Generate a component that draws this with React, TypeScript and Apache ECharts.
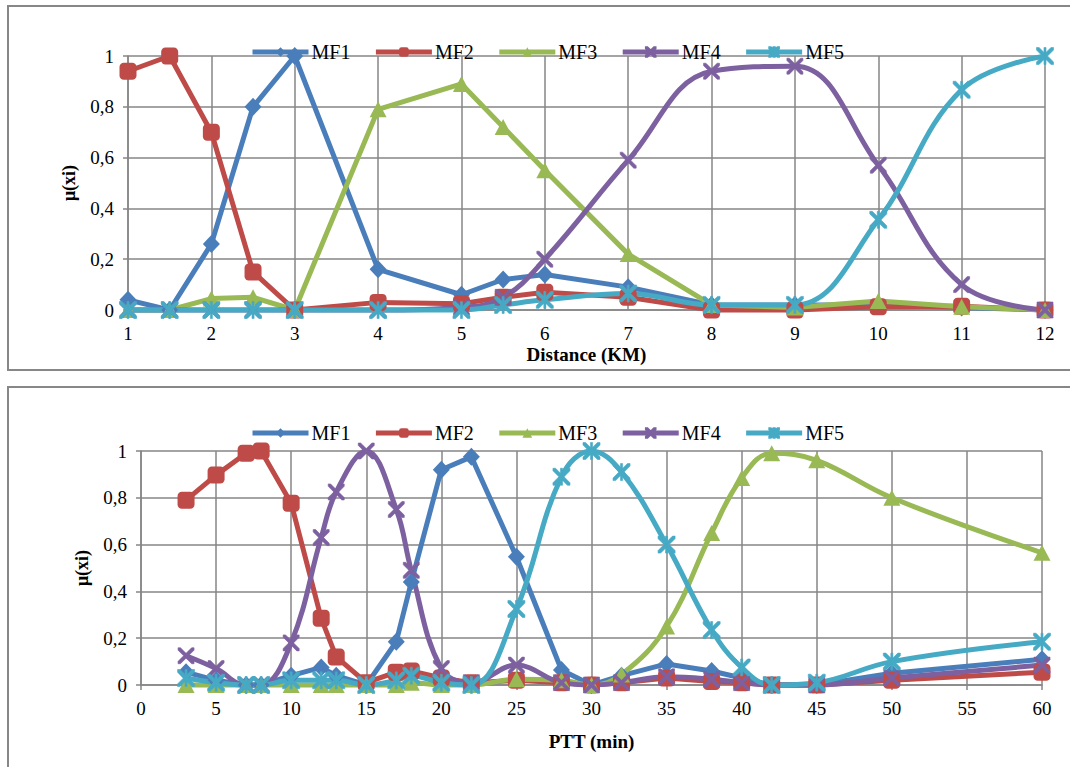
import React, { useEffect, useRef } from "react";
import * as echarts from "echarts";

const seriesNames = ["MF1", "MF2", "MF3", "MF4", "MF5"];
const colors = ["#4A7EBB", "#BE4B48", "#98B954", "#7D60A0", "#46AAC5"];

// Top chart: Distance (KM)
const distanceX = [1, 1.5, 2, 2.5, 3, 4, 5, 5.5, 6, 7, 8, 9, 10, 11, 12];
const distMF1 = [0.04, 0.0, 0.26, 0.8, 1.0, 0.16, 0.06, 0.12, 0.14, 0.09, 0.02, 0.02, 0.02, 0.01, 0.0];
const distMF2 = [0.94, 1.0, 0.7, 0.15, 0.0, 0.03, 0.025, 0.05, 0.07, 0.05, 0.0, 0.0, 0.013, 0.015, 0.0];
const distMF3 = [0.0, 0.0, 0.045, 0.05, 0.0, 0.79, 0.89, 0.72, 0.55, 0.22, 0.02, 0.01, 0.035, 0.013, 0.0];
const distMF4 = [0.0, 0.0, 0.0, 0.0, 0.0, 0.0, 0.01, 0.05, 0.2, 0.59, 0.94, 0.96, 0.57, 0.1, 0.0];
const distMF5 = [0.0, 0.0, 0.0, 0.0, 0.0, 0.0, 0.0, 0.02, 0.04, 0.065, 0.02, 0.02, 0.355, 0.867, 1.0];

// Bottom chart: PTT (min)
const pttX = [3, 5, 7, 8, 10, 12, 13, 15, 17, 18, 20, 22, 25, 28, 30, 32, 35, 38, 40, 42, 45, 50, 60];
const pttMF1 = [0.055, 0.02, 0.0, 0.0, 0.04, 0.075, 0.04, 0.0, 0.185, 0.44, 0.92, 0.975, 0.548, 0.064, 0.0, 0.04, 0.09, 0.06, 0.03, 0.0, 0.0, 0.05, 0.11];
const pttMF2 = [0.79, 0.897, 0.99, 1.0, 0.777, 0.285, 0.12, 0.01, 0.055, 0.06, 0.03, 0.01, 0.02, 0.01, 0.0, 0.01, 0.03, 0.015, 0.01, 0.0, 0.0, 0.02, 0.055];
const pttMF3 = [0.0, 0.0, 0.0, 0.0, 0.0, 0.0, 0.0, 0.0, 0.0, 0.01, 0.0, 0.0, 0.025, 0.02, 0.0, 0.045, 0.25, 0.65, 0.885, 0.99, 0.96, 0.8, 0.565];
const pttMF4 = [0.125, 0.07, 0.0, 0.0, 0.18, 0.63, 0.825, 1.0, 0.75, 0.49, 0.07, 0.01, 0.085, 0.01, 0.0, 0.01, 0.035, 0.025, 0.01, 0.0, 0.0, 0.03, 0.085];
const pttMF5 = [0.03, 0.01, 0.0, 0.0, 0.02, 0.02, 0.02, 0.0, 0.02, 0.04, 0.01, 0.0, 0.325, 0.89, 1.0, 0.91, 0.6, 0.235, 0.075, 0.0, 0.01, 0.1, 0.185];

const yTicks = ["0", "0,2", "0,4", "0,6", "0,8", "1"];

const X_PATH =
  "path://M0,0 L3,0 L10,7 L17,0 L20,0 L20,3 L13,10 L20,17 L20,20 L17,20 L10,13 L3,20 L0,20 L0,17 L7,10 L0,3 Z";
const STAR_PATH =
  "path://M0,0 L3,0 L10,7 L17,0 L20,0 L20,3 L13,10 L20,17 L20,20 L17,20 L10,13 L3,20 L0,20 L0,17 L7,10 L0,3 Z M8.8,0 L11.2,0 L11.2,20 L8.8,20 Z";

const symbols: any[] = ["diamond", "roundRect", "triangle", X_PATH, STAR_PATH];
const symbolSizes: any[] = [[17, 18], 17, [17, 16], 16, 17];

const FONT = "Liberation Serif";

export default function App() {
  const ref = useRef<HTMLDivElement>(null);

  useEffect(() => {
    if (!ref.current) return;
    const chart = echarts.init(ref.current, null, { renderer: "svg" });

    const distData = [distMF1, distMF2, distMF3, distMF4, distMF5];
    const pttData = [pttMF1, pttMF2, pttMF3, pttMF4, pttMF5];
    const distSmooth = [false, false, false, true, true];
    const pttSmooth = [false, false, true, true, true];

    const mkSeries = (
      xs: number[],
      ys: number[][],
      smooth: boolean[],
      idx: number
    ) =>
      ys.map((vals, i) => ({
        name: seriesNames[i],
        type: "line",
        xAxisIndex: idx,
        yAxisIndex: idx,
        data: xs.map((x, j) => [x, vals[j]]),
        smooth: smooth[i] ? 0.4 : false,
        symbol: symbols[i],
        symbolSize: symbolSizes[i],
        showAllSymbol: true,
        clip: false,
        lineStyle: { color: colors[i], width: 5 },
        itemStyle: {
          color: colors[i],
          borderColor: colors[i],
          borderWidth: i >= 3 ? 0.6 : 0,
        },
        emphasis: { disabled: true },
      }));

    const yLabelFmt = (v: number) => yTicks[Math.round(v * 5)] ?? String(v);

    const mkYAxis = (gridIndex: number, nameGap: number) => ({
      type: "value",
      gridIndex,
      min: 0,
      max: 1,
      interval: 0.2,
      name: "μ(xi)",
      nameLocation: "middle",
      nameGap,
      nameRotate: 90,
      nameTextStyle: { fontFamily: FONT, fontWeight: "bold", fontSize: 18, color: "#000" },
      axisLine: { show: true, lineStyle: { color: "#868686", width: 1.5 } },
      axisTick: { show: true, length: 5, lineStyle: { color: "#868686", width: 1.5 } },
      axisLabel: { formatter: yLabelFmt, fontFamily: FONT, fontSize: 19, color: "#000", margin: 14 },
      splitLine: { show: true, lineStyle: { color: "#868686", width: 1.5 } },
    });

    const mkXAxis = (
      gridIndex: number,
      min: number,
      max: number,
      interval: number,
      name: string,
      nameGap: number
    ) => ({
      type: "value",
      gridIndex,
      min,
      max,
      interval,
      name,
      nameLocation: "middle",
      nameGap,
      nameTextStyle: { fontFamily: FONT, fontWeight: "bold", fontSize: 19, color: "#000" },
      axisLine: { show: true, onZero: false, lineStyle: { color: "#868686", width: 1.5 } },
      axisTick: { show: gridIndex === 1, length: 5, lineStyle: { color: "#868686", width: 1.5 } },
      axisLabel: { fontFamily: FONT, fontSize: 19, color: "#000", margin: 14 },
      splitLine: { show: true, lineStyle: { color: "#868686", width: 1.5 } },
    });

    const legendCommon = {
      data: seriesNames,
      left: 245,
      itemWidth: 56,
      itemHeight: 12,
      itemGap: 23,
      lineStyle: { width: 5 },
      textStyle: { fontFamily: FONT, fontSize: 20, color: "#000", padding: [0, 0, 0, -2] },
    };

    const option: any = {
      animation: false,
      backgroundColor: "#fff",
      textStyle: { fontFamily: FONT },
      graphic: [
        {
          type: "rect",
          silent: true,
          shape: { x: 8, y: 6, width: 1080, height: 364 },
          style: { fill: "none", stroke: "#878787", lineWidth: 2 },
        },
        {
          type: "rect",
          silent: true,
          shape: { x: 8, y: 387, width: 1080, height: 400 },
          style: { fill: "none", stroke: "#878787", lineWidth: 2 },
        },
      ],
      legend: [
        { ...legendCommon, top: 37 },
        { ...legendCommon, top: 418 },
      ],
      grid: [
        { left: 128, right: 25, top: 56, height: 254 },
        { left: 141, right: 28, top: 451, height: 234 },
      ],
      xAxis: [
        mkXAxis(0, 1, 12, 1, "Distance (KM)", 35),
        mkXAxis(1, 0, 60, 5, "PTT (min)", 47),
      ],
      yAxis: [mkYAxis(0, 50), mkYAxis(1, 50)],
      series: [
        ...mkSeries(distanceX, distData, distSmooth, 0),
        ...mkSeries(pttX, pttData, pttSmooth, 1),
      ],
    };

    chart.setOption(option);
    return () => chart.dispose();
  }, []);

  return (
    <div
      ref={ref}
      style={{ position: "absolute", left: 0, top: 0, width: 1070, height: 767 }}
    />
  );
}
